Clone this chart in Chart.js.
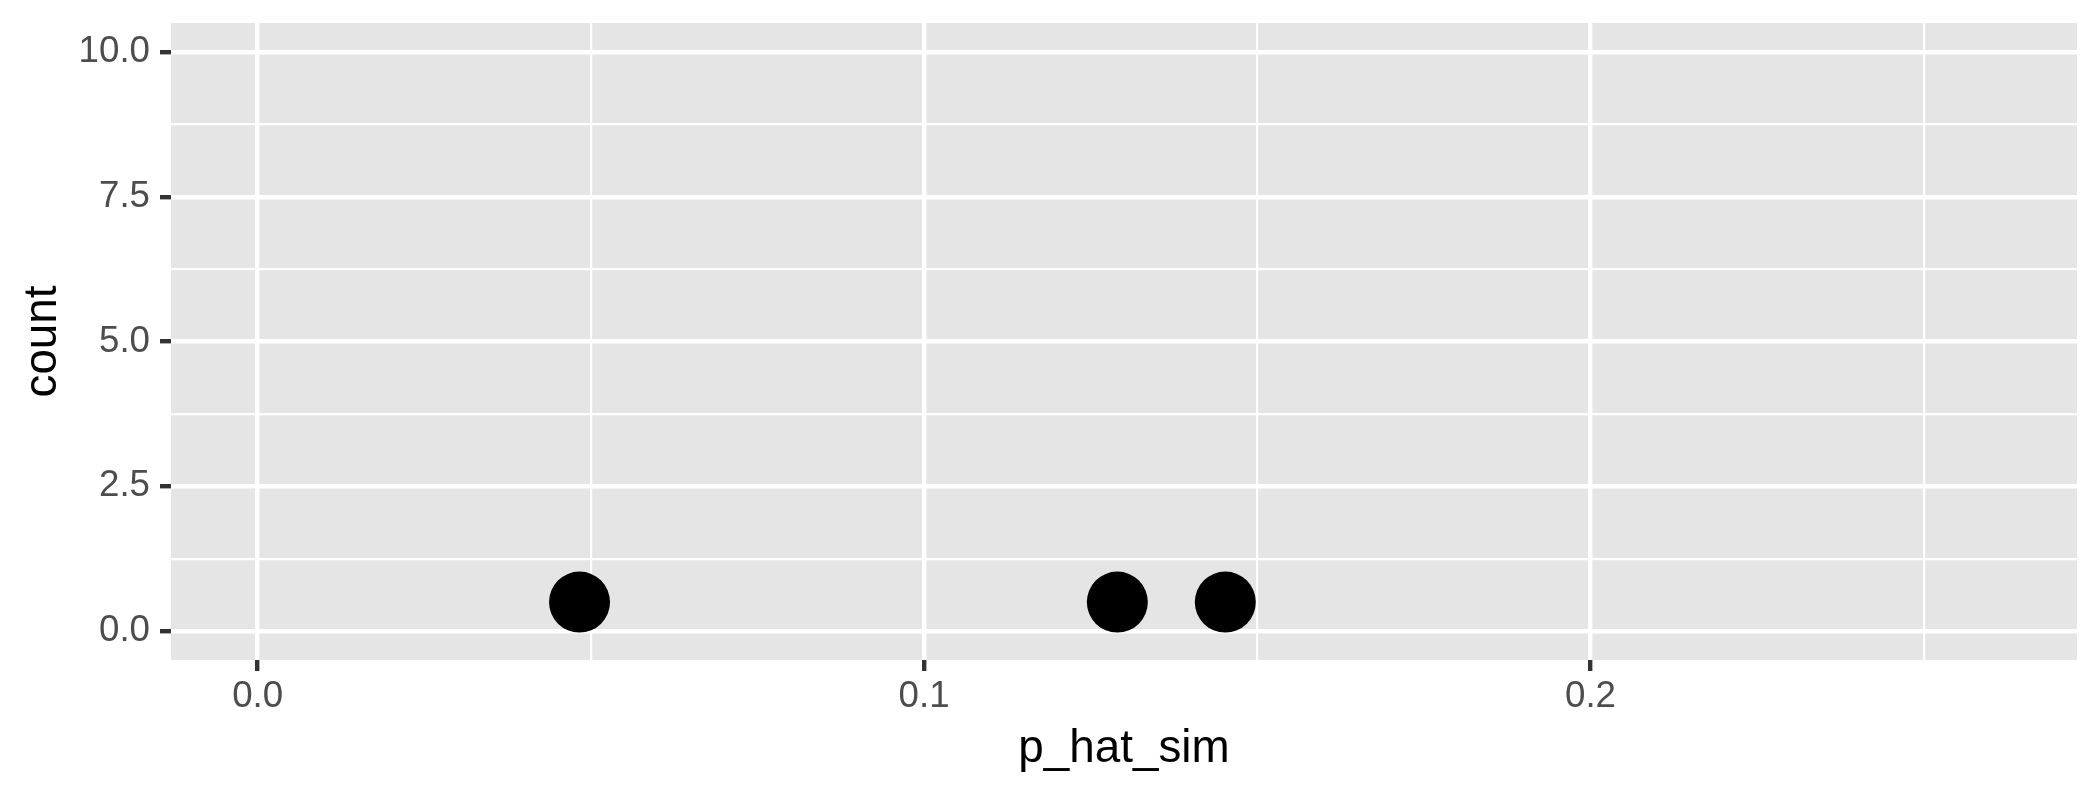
<!DOCTYPE html>
<html>
<head>
<meta charset="utf-8">
<script src="https://cdn.jsdelivr.net/npm/chart.js@4"></script>
<style>
  html, body { margin: 0; padding: 0; background: #fff; }
  canvas { display: block; }
</style>
</head>
<body>
<canvas id="chart" width="2100" height="795"></canvas>
<script>
// dot positions
const pHatSim = [0.0483, 0.129, 0.1452]
const countY = [0.5, 0.5, 0.5]

// axis ticks
const xMajorTicks = [0, 0.1, 0.2]
const xMinorTicks = [0.05, 0.15, 0.25]
const xTickLabels = ["0.0", "0.1", "0.2"]
const yMajorTicks = [0, 2.5, 5, 7.5, 10]
const yMinorTicks = [1.25, 3.75, 6.25, 8.75]
const yTickLabels = ["0.0", "2.5", "5.0", "7.5", "10.0"]

const FONT = "'Liberation Sans', Arial, sans-serif"
const tickFont = { family: FONT, size: 36.7 }
const titleFont = { family: FONT, size: 45.8 }

const panelBackground = {
  id: "panelBackground",
  beforeDraw(chart) {
    const { ctx, chartArea: a } = chart
    ctx.save()
    ctx.fillStyle = "#E5E5E5"
    ctx.fillRect(a.left, a.top, a.right - a.left, a.bottom - a.top)
    ctx.restore()
  },
}

function axisOptions(majors, minors, labels) {
  const isMajor = (v) => majors.includes(v)
  return {
    grid: {
      color: "#FFFFFF",
      lineWidth: (c) => (c.tick && isMajor(c.tick.value) ? 4.4 : 2.2),
      drawTicks: true,
      tickLength: 11,
      tickWidth: 4.4,
      tickColor: (c) => (c.tick && isMajor(c.tick.value) ? "#333333" : "rgba(0,0,0,0)"),
    },
    border: { display: false },
    afterBuildTicks: (scale) => {
      scale.ticks = majors.concat(minors).sort((a, b) => a - b).map((v) => ({ value: v }))
    },
    ticks: {
      autoSkip: false,
      maxRotation: 0,
      color: "#4D4D4D",
      font: tickFont,
      callback: function (value) {
        const i = majors.indexOf(value)
        return i >= 0 ? labels[i] : ""
      },
    },
  }
}

// keep the label overhang from pushing the panel around
function noOverhang(scale) {
  scale.paddingTop = 0
  scale.paddingBottom = 0
  scale.paddingLeft = 0
  scale.paddingRight = 0
}

const xAxis = axisOptions(xMajorTicks, xMinorTicks, xTickLabels)
xAxis.type = "linear"
xAxis.min = -0.013
xAxis.max = 0.273
xAxis.ticks.padding = 4
xAxis.title = { display: true, text: "p_hat_sim", color: "#000000", font: titleFont, padding: { top: 0, bottom: 18 } }
xAxis.afterFit = (scale) => {
  scale.height = 135
  noOverhang(scale)
}

const yAxis = axisOptions(yMajorTicks, yMinorTicks, yTickLabels)
yAxis.type = "linear"
yAxis.min = -0.5
yAxis.max = 10.5
yAxis.ticks.padding = 10
yAxis.title = { display: true, text: "count", color: "#000000", font: titleFont, padding: { top: 16, bottom: 0 } }
yAxis.afterFit = (scale) => {
  scale.width = 171
  noOverhang(scale)
}

new Chart(document.getElementById("chart"), {
  type: "scatter",
  data: {
    datasets: [
      {
        label: "count",
        data: pHatSim.map((x, i) => ({ x: x, y: countY[i] })),
        backgroundColor: "#000000",
        borderWidth: 0,
        pointRadius: 30.5,
        pointHoverRadius: 30.5,
      },
    ],
  },
  options: {
    responsive: false,
    animation: false,
    layout: { autoPadding: false, padding: { top: 23, right: 23, left: 0, bottom: 0 } },
    plugins: { legend: { display: false }, tooltip: { enabled: false } },
    scales: { x: xAxis, y: yAxis },
  },
  plugins: [panelBackground],
})
</script>
</body>
</html>
